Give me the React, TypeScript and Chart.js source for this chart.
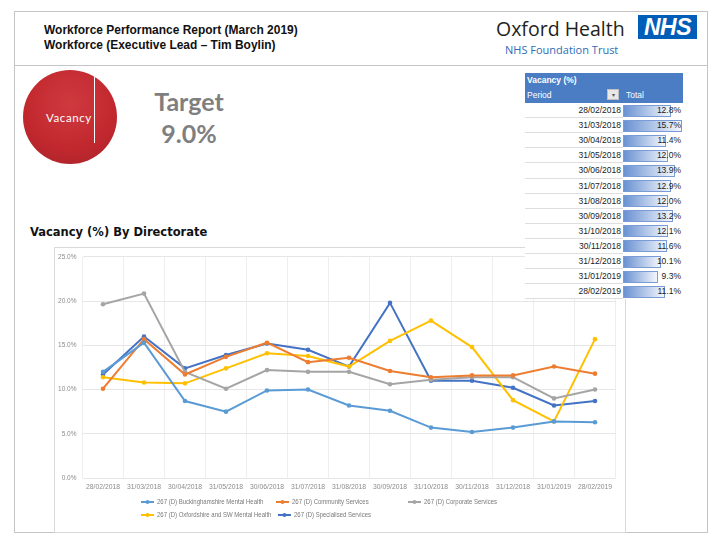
import React, { useEffect, useRef } from "react";
import { Chart, registerables } from "chart.js";

Chart.register(...registerables);

const categories = [
  "28/02/2018", "31/03/2018", "30/04/2018", "31/05/2018", "30/06/2018", "31/07/2018",
  "31/08/2018", "30/09/2018", "31/10/2018", "30/11/2018", "31/12/2018", "31/01/2019", "28/02/2019",
];
const bucksValues = [12.0, 15.3, 8.7, 7.5, 9.9, 10.0, 8.2, 7.6, 5.7, 5.2, 5.7, 6.4, 6.3];
const communityValues = [10.1, 15.7, 11.7, 13.7, 15.3, 13.1, 13.6, 12.1, 11.4, 11.6, 11.6, 12.6, 11.8];
const corporateValues = [19.65, 20.85, 12.0, 10.1, 12.2, 12.0, 12.0, 10.6, 11.1, 11.4, 11.4, 9.0, 10.0];
const oxonValues = [11.4, 10.8, 10.7, 12.4, 14.1, 13.8, 12.6, 15.5, 17.8, 14.8, 8.8, 6.4, 15.7];
const specialisedValues = [11.7, 16.0, 12.4, 13.9, 15.2, 14.5, 12.6, 19.8, 11.0, 11.0, 10.2, 8.2, 8.7];
const seriesLabels = [
  "267 (D) Buckinghamshire Mental Health",
  "267 (D) Community Services",
  "267 (D) Corporate Services",
  "267 (D) Oxfordshire and SW Mental Health",
  "267 (D) Specialised Services",
];
const yTicks = [0, 5, 10, 15, 20, 25];

const tablePeriods = categories;
const tableTotals = [12.8, 15.7, 11.4, 12.0, 13.9, 12.9, 12.0, 13.2, 12.1, 11.6, 10.1, 9.3, 11.1];
const targetValue = "9.0%";

const colors = ["#5b9bd5", "#ed7d31", "#a5a5a5", "#ffc000", "#4472c4"];
const legendPos = [
  [87, 255], [222, 255], [354, 255], [87, 268], [224, 268],
];

const legendPlugin = {
  id: "gridLegend",
  afterDraw(chart: any) {
    const ctx = chart.ctx;
    ctx.save();
    chart.data.datasets.forEach((ds: any, i: number) => {
      const [x, y] = legendPos[i];
      ctx.strokeStyle = ds.borderColor;
      ctx.lineWidth = 2;
      ctx.beginPath();
      ctx.moveTo(x, y);
      ctx.lineTo(x + 13, y);
      ctx.stroke();
      ctx.fillStyle = ds.borderColor;
      ctx.beginPath();
      ctx.arc(x + 6.5, y, 2, 0, Math.PI * 2);
      ctx.fill();
      ctx.save();
      ctx.translate(x + 16, y);
      ctx.scale(0.8, 1);
      ctx.fillStyle = "#7a7a7a";
      ctx.font = "7.5px 'Liberation Sans', Arial, sans-serif";
      ctx.textBaseline = "middle";
      ctx.textAlign = "left";
      ctx.fillText(ds.label, 0, 0);
      ctx.restore();
    });
    ctx.restore();
  },
};

function LineChart() {
  const ref = useRef<HTMLCanvasElement | null>(null);
  useEffect(() => {
    if (!ref.current) return;
    const values = [bucksValues, communityValues, corporateValues, oxonValues, specialisedValues];
    const chart = new Chart(ref.current, {
      type: "line",
      data: {
        labels: categories,
        datasets: values.map((v, i) => ({
          label: seriesLabels[i],
          data: v,
          borderColor: colors[i],
          backgroundColor: colors[i],
          borderWidth: 2,
          pointRadius: 2.3,
          pointBorderWidth: 0,
          tension: 0,
        })),
      },
      options: {
        animation: false,
        responsive: false,
        maintainAspectRatio: false,
        layout: { padding: { top: 8, right: 10.5, left: 0, bottom: 0 } },
        plugins: { legend: { display: false }, tooltip: { enabled: false } },
        scales: {
          x: {
            type: "category",
            offset: true,
            grid: { offset: true, color: "#eeeeee", drawTicks: false },
            border: { display: false },
            ticks: {
              autoSkip: false,
              maxRotation: 0,
              padding: 5,
              color: "#8c8c8c",
              font: { size: 6.8, family: "'Liberation Sans', Arial, sans-serif" },
            },
            afterFit: (s: any) => { s.height = 55; },
          },
          y: {
            min: 0,
            max: 25,
            afterBuildTicks: (s: any) => { s.ticks = yTicks.map((v) => ({ value: v })); },
            grid: { color: "#e6e6e6", drawTicks: false },
            border: { display: false },
            ticks: {
              padding: 6,
              color: "#8c8c8c",
              font: { size: 6.5, family: "'Liberation Sans', Arial, sans-serif" },
              callback: (v: any) => Number(v).toFixed(1) + "%",
            },
            afterFit: (s: any) => { s.width = 28.5; },
          },
        },
      },
      plugins: [legendPlugin],
    });
    return () => chart.destroy();
  }, []);
  return <canvas ref={ref} width={572} height={286} style={{ position: "absolute", left: 54, top: 247 }} />;
}

const abs = (o: React.CSSProperties): React.CSSProperties => ({ position: "absolute", ...o });

function VacancyTable() {
  const rowH = 15.1;
  const barScale = 3.75;
  const f = "'Liberation Sans', Arial, sans-serif";
  return (
    <div style={abs({ left: 525, top: 73, width: 158, height: 226, background: "#fff", fontFamily: f })}>
      <div style={abs({ left: 0, top: 0, width: 158, height: 30, background: "#4a7dc4" })} />
      <div style={abs({ left: 2, top: 2, fontSize: 8.5, fontWeight: "bold", color: "#fff" })}>Vacancy (%)</div>
      <div style={abs({ left: 2, top: 17, fontSize: 8.5, color: "#fff" })}>Period</div>
      <div style={abs({ left: 82, top: 16, width: 12, height: 11, background: "#e8e8e8", border: "1px solid #c0c0c0", boxSizing: "border-box", fontSize: 6, color: "#555", textAlign: "center", lineHeight: "10px" })}>▾</div>
      <div style={abs({ left: 101, top: 17, fontSize: 8.5, color: "#fff" })}>Total</div>
      {tablePeriods.map((p, i) => {
        const top = 30 + i * rowH;
        return (
          <React.Fragment key={p}>
            <div style={abs({ left: 0, top: top + rowH - 1, width: 98, height: 1, background: "#dedede" })} />
            <div style={abs({ left: 0, top, width: 96, height: rowH, lineHeight: rowH + "px", textAlign: "right", fontSize: 8.5, color: "#222" })}>{p}</div>
            <div style={abs({ left: 98, top: top + 1.5, width: tableTotals[i] * barScale, height: rowH - 3, boxSizing: "border-box", border: "1px solid #7b9bd6", background: "linear-gradient(to right, #6a92d2, #f4f7fc)" })} />
            <div style={abs({ left: 98, top, width: 58, height: rowH, lineHeight: rowH + "px", textAlign: "right", fontSize: 8.5, color: "#222" })}>{tableTotals[i].toFixed(1)}%</div>
          </React.Fragment>
        );
      })}
    </div>
  );
}

export default function App() {
  return (
    <div style={abs({ left: 0, top: 0, width: 720, height: 540, background: "#fff", overflow: "hidden" })}>
      <div style={abs({ left: 14, top: 11, width: 694, height: 522, border: "1px solid #c4c4c4", boxSizing: "border-box" })} />
      <div style={abs({ left: 14, top: 65, width: 694, height: 1, background: "#c4c4c4" })} />
      <div style={abs({ left: 44, top: 22, fontFamily: "'Liberation Sans', Arial, sans-serif", fontWeight: "bold", fontSize: 13, lineHeight: "15px", color: "#111", transform: "scaleX(0.92)", transformOrigin: "0 0", whiteSpace: "nowrap" })}>
        <div>Workforce Performance Report (March 2019)</div>
        <div>Workforce (Executive Lead – Tim Boylin)</div>
      </div>
      <div style={abs({ left: 496, top: 16, fontFamily: "'Open Sans', sans-serif", fontSize: 19.5, color: "#231f20", lineHeight: "26px" })}>Oxford Health</div>
      <div style={abs({ left: 638, top: 15, width: 59, height: 24, background: "#005eb8", color: "#fff", fontFamily: "'Liberation Sans', Arial, sans-serif", fontWeight: "bold", fontStyle: "italic", fontSize: 23, lineHeight: "24px", textAlign: "center", letterSpacing: -0.5 })}>NHS</div>
      <div style={abs({ left: 505, top: 42, fontFamily: "'Open Sans', sans-serif", fontSize: 11, color: "#2f6db5", lineHeight: "15px" })}>NHS Foundation Trust</div>

      <div style={abs({ left: 23, top: 70, width: 94, height: 94, borderRadius: "50%", background: "radial-gradient(circle at 50% 35%, #cf3a3f 0%, #c1282e 60%, #a3232a 100%)" })} />
      <div style={abs({ left: 93.5, top: 77, width: 1.2, height: 66, background: "#fff" })} />
      <div style={abs({ left: 46, top: 111, fontFamily: "Lato, sans-serif", fontSize: 11.5, color: "#fff", letterSpacing: 0.6, lineHeight: "14px" })}>Vacancy</div>

      <div style={abs({ left: 130, top: 85, width: 118, textAlign: "center", fontFamily: "Lato, sans-serif", fontWeight: "bold", fontSize: 25, color: "#7f7f7f", lineHeight: "32px" })}>
        <div>Target</div>
        <div>{targetValue}</div>
      </div>

      <div style={abs({ left: 30, top: 225, fontFamily: "'DejaVu Sans', sans-serif", fontWeight: "bold", fontSize: 11.5, color: "#111", lineHeight: "15px" })}>Vacancy (%) By Directorate</div>

      <div style={abs({ left: 54, top: 247, width: 572, height: 286, border: "1px solid #d9d9d9", boxSizing: "border-box" })} />
      <LineChart />
      <VacancyTable />
    </div>
  );
}
